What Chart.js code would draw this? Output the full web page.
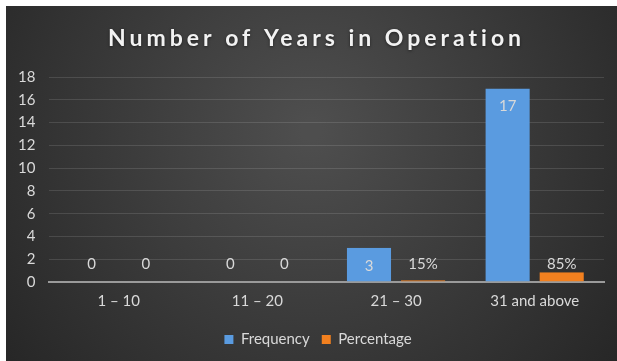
<!DOCTYPE html>
<html>
<head>
<meta charset="utf-8">
<script src="https://cdn.jsdelivr.net/npm/chart.js@4/dist/chart.umd.min.js"></script>
<style>
  html, body { margin: 0; padding: 0; background: #ffffff; }
  #wrap { position: absolute; left: 6px; top: 6px; width: 611px; height: 355px; }
</style>
</head>
<body>
<div id="wrap"><canvas id="c" width="611" height="355"></canvas></div>
<script>
const categories = ['1 – 10', '11 – 20', '21 – 30', '31 and above'];
const frequency = [0, 0, 3, 17];
const percentage = [0, 0, 0.15, 0.85];
const percentageLabels = ['0', '0', '15%', '85%'];
const frequencyLabels = ['0', '0', '3', '17'];
const titleText = 'Number of Years in Operation';
const yMax = 18;
const yStep = 2;

const FONT = "Lato, 'Open Sans', sans-serif";

const bgPlugin = {
  id: 'bg',
  beforeDraw(chart) {
    const { ctx, width, height } = chart;
    const g = ctx.createRadialGradient(width * 0.5, height * 0.35, 10, width * 0.5, height * 0.35, width * 0.62);
    g.addColorStop(0, '#4e4e4e');
    g.addColorStop(1, '#272727');
    ctx.save();
    ctx.fillStyle = g;
    ctx.fillRect(0, 0, width, height);
    ctx.restore();
  }
};

const legendShift = {
  id: 'legendShift',
  afterLayout(chart) {
    if (chart.legend) {
      chart.legend.left += 14;
      chart.legend.right += 14;
    }
  }
};

const titlePlugin = {
  id: 'spacedTitle',
  afterDraw(chart) {
    const ctx = chart.ctx;
    ctx.save();
    ctx.font = "bold 23px " + FONT;
    ctx.letterSpacing = '4px';
    ctx.fillStyle = '#f2f2f2';
    ctx.textAlign = 'center';
    ctx.textBaseline = 'alphabetic';
    ctx.shadowColor = 'rgba(0,0,0,0.5)';
    ctx.shadowBlur = 3;
    ctx.shadowOffsetY = 1;
    ctx.fillText(titleText, chart.width / 2 + 5, 40);
    ctx.restore();
  }
};

const labelPlugin = {
  id: 'labels',
  afterDatasetsDraw(chart) {
    const ctx = chart.ctx;
    const base = chart.scales.y.getPixelForValue(0);
    ctx.save();
    ctx.font = "15px " + FONT;
    ctx.textAlign = 'center';
    ctx.textBaseline = 'middle';
    chart.data.datasets.forEach((ds, di) => {
      const meta = chart.getDatasetMeta(di);
      meta.data.forEach((bar, i) => {
        let y;
        if (di === 0) {
          y = ds.data[i] > 0 ? bar.y + 18 : base - 18;
        } else {
          y = Math.min(bar.y - 8, base - 18);
        }
        ctx.fillStyle = '#d9d9d9';
        ctx.fillText(ds.labelsText[i], bar.x, y);
      });
    });
    ctx.restore();
  }
};

new Chart(document.getElementById('c'), {
  type: 'bar',
  data: {
    labels: categories,
    datasets: [
      {
        label: 'Frequency',
        data: frequency,
        labelsText: frequencyLabels,
        backgroundColor: '#5a9be0',
        borderColor: 'rgba(0,0,0,0)',
        borderWidth: { top: 0, bottom: 0, left: 5, right: 5 },
        borderSkipped: 'start'
      },
      {
        label: 'Percentage',
        data: percentage,
        labelsText: percentageLabels,
        backgroundColor: '#f2801f',
        borderColor: 'rgba(0,0,0,0)',
        borderWidth: { top: 0, bottom: 0, left: 5, right: 5 },
        borderSkipped: 'start'
      }
    ]
  },
  options: {
    responsive: false,
    animation: false,
    devicePixelRatio: 1,
    layout: { padding: { left: -2, right: 13, top: 71, bottom: 4 } },
    datasets: { bar: { categoryPercentage: 0.78, barPercentage: 1.0 } },
    scales: {
      x: {
        grid: { display: false, drawTicks: false },
        border: { display: true, color: '#9a9a9a', width: 2 },
        ticks: { color: '#d9d9d9', font: { family: FONT, size: 15 }, padding: 10 }
      },
      y: {
        min: 0,
        max: yMax,
        grid: { color: 'rgba(255,255,255,0.12)', drawTicks: false },
        border: { display: false },
        ticks: { stepSize: yStep, color: '#d9d9d9', font: { family: FONT, size: 15 }, padding: 14 }
      }
    },
    plugins: {
      title: { display: false },
      legend: {
        position: 'bottom',
        labels: {
          color: '#d9d9d9',
          font: { family: FONT, size: 15 },
          boxWidth: 9,
          boxHeight: 9,
          padding: 12
        }
      },
      tooltip: { enabled: false }
    }
  },
  plugins: [bgPlugin, legendShift, labelPlugin, titlePlugin]
});
</script>
</body>
</html>
